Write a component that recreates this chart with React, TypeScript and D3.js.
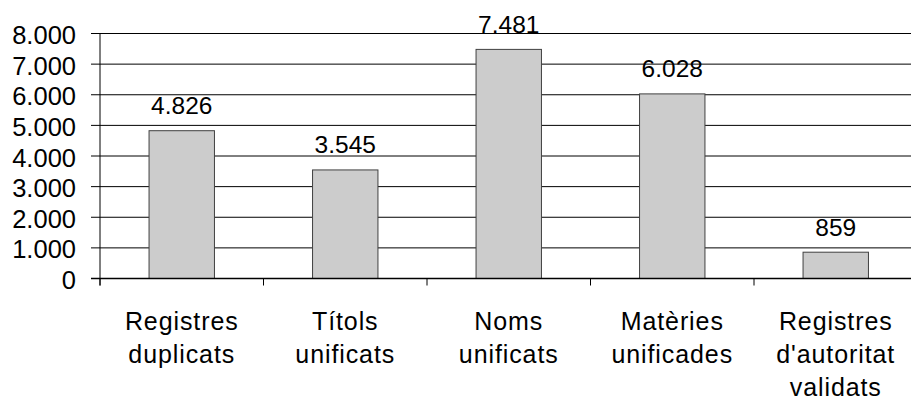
import * as d3 from "d3"

const categories: string[][] = [
  ["Registres", "duplicats"],
  ["Títols", "unificats"],
  ["Noms", "unificats"],
  ["Matèries", "unificades"],
  ["Registres", "d'autoritat", "validats"],
]
const values = [4826, 3545, 7481, 6028, 859]
const yTicks = [0, 1000, 2000, 3000, 4000, 5000, 6000, 7000, 8000]

const locale = d3.formatLocale({
  decimal: ",",
  thousands: ".",
  grouping: [3],
  currency: ["", " €"],
})
const fmt = locale.format(",d")

const W = 911
const H = 400
const FONT = "'Liberation Sans', Arial, sans-serif"

export default function App() {
  const left = 100
  const right = 917.5
  const top = 33.5
  const bottom = 278.5

  const x = d3
    .scaleBand<number>()
    .domain(values.map((_, i) => i))
    .range([left, right])
  const y = d3.scaleLinear().domain([0, 8000]).range([bottom, top])

  const barW = x.bandwidth() * 0.4

  return (
    <svg
      width={W}
      height={H}
      style={{ position: "fixed", top: 0, left: 0, background: "#fff" }}
      fontFamily={FONT}
    >
      {/* gridlines + y labels */}
      {yTicks.map((t) => (
        <g key={t}>
          <line x1={left - 9} x2={W} y1={y(t)} y2={y(t)} stroke="#000" strokeWidth={1} />
          <text
            x={76}
            y={y(t) + 10.5}
            textAnchor="end"
            fontSize={25.5}
            fill="#000"
          >
            {fmt(t)}
          </text>
        </g>
      ))}

      {/* bars */}
      {values.map((v, i) => {
        const cx = (x(i) || 0) + x.bandwidth() / 2
        return (
          <g key={i}>
            <rect
              x={cx - barW / 2}
              y={y(v)}
              width={barW}
              height={bottom - y(v)}
              fill="#cccccc"
              stroke="#404040"
              strokeWidth={1}
            />
            <text x={cx} y={y(v) - 16.5} textAnchor="middle" fontSize={24.5} fill="#000">
              {fmt(v)}
            </text>
          </g>
        )
      })}

      {/* axes */}
      <line x1={left} x2={left} y1={top} y2={bottom + 7} stroke="#000" strokeWidth={1} />
      <line x1={left - 9} x2={W} y1={bottom} y2={bottom} stroke="#000" strokeWidth={1.5} />
      {values.map((_, i) => (
        <line
          key={i}
          x1={x(i) || 0}
          x2={x(i) || 0}
          y1={bottom}
          y2={bottom + 7}
          stroke="#000"
          strokeWidth={1}
        />
      ))}

      {/* category labels */}
      {categories.map((lines, i) => {
        const cx = (x(i) || 0) + x.bandwidth() / 2
        return (
          <text key={i} textAnchor="middle" fontSize={25} letterSpacing={0.9} fill="#000">
            {lines.map((l, j) => (
              <tspan key={j} x={cx} y={330 + j * 33}>
                {l}
              </tspan>
            ))}
          </text>
        )
      })}
    </svg>
  )
}
